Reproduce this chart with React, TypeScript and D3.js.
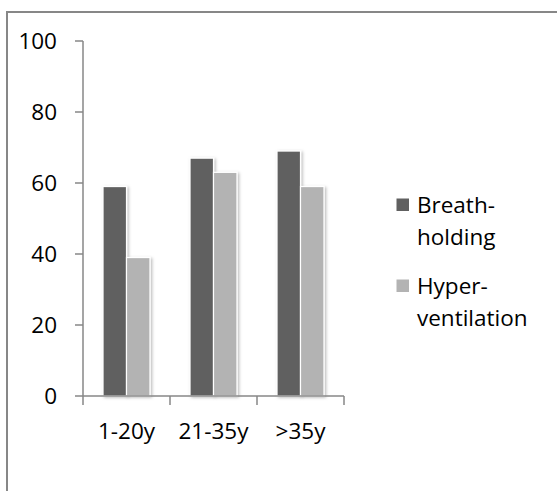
import React from "react";
import * as d3 from "d3";

// Age groups and the share (%) per group for each manoeuvre
const categories = ["1-20y", "21-35y", ">35y"];
const seriesNames = ["Breath-holding", "Hyper-ventilation"];
const breathHolding = [59, 67, 69];
const hyperventilation = [39, 63, 59];
const yTicks = [0, 20, 40, 60, 80, 100];
const legendLines = [["Breath-", "holding"], ["Hyper-", "ventilation"]];

const W = 557;
const H = 491;
const colors = ["#606060", "#b3b3b3"];
const axisColor = "#878787";
const font = "'Open Sans', Lato, sans-serif";
const fontSize = 22.5;

export default function App() {
  const x = d3.scaleBand<string>().domain(categories).range([83, 344]).paddingInner(0).paddingOuter(0);
  const y = d3.scaleLinear().domain([0, 100]).range([396, 41]);
  const barW = x.bandwidth() * 0.27;
  const inner = d3
    .scaleBand<string>()
    .domain(seriesNames)
    .range([-barW, barW])
    .padding(0);
  const values = [breathHolding, hyperventilation];
  const [x0, x1] = x.range();
  const tickEdges = [...categories.map((c) => x(c) as number), x1];

  return (
    <div style={{ position: "absolute", left: 0, top: 0 }}>
      <svg width={W} height={H} style={{ display: "block", background: "#fff" }}>
        <defs>
          <filter id="barShadow" x="-30%" y="-10%" width="160%" height="120%">
            <feDropShadow dx="1.5" dy="1" stdDeviation="1.6" floodColor="#000" floodOpacity="0.28" />
          </filter>
        </defs>
        {/* chart frame */}
        <rect x={7} y={12} width={W + 20} height={H + 20} fill="none" stroke={axisColor} strokeWidth={2} />

        {/* bars */}
        {seriesNames.map((s, si) =>
          categories.map((c, ci) => {
            const cx = (x(c) as number) + x.bandwidth() / 2;
            const bx = cx + (inner(s) as number);
            const v = values[si][ci];
            return (
              <rect
                key={s + c}
                x={bx}
                y={y(v)}
                width={inner.bandwidth()}
                height={y(0) - y(v)}
                fill={colors[si]}
                stroke="#fff"
                strokeWidth={1.2}
                filter="url(#barShadow)"
              />
            );
          })
        )}

        {/* y axis */}
        <line x1={x0} x2={x0} y1={y(100)} y2={y(0)} stroke={axisColor} strokeWidth={1.5} />
        {yTicks.map((t) => (
          <g key={t}>
            <line x1={x0 - 8} x2={x0} y1={y(t)} y2={y(t)} stroke={axisColor} strokeWidth={1.5} />
            <text x={57} y={y(t) + 8} textAnchor="end" fontFamily={font} fontSize={fontSize} fill="#000">
              {t}
            </text>
          </g>
        ))}

        {/* x axis */}
        <line x1={x0} x2={x1} y1={y(0)} y2={y(0)} stroke={axisColor} strokeWidth={1.5} />
        {tickEdges.map((tx, i) => (
          <line key={i} x1={tx} x2={tx} y1={y(0)} y2={y(0) + 9} stroke={axisColor} strokeWidth={1.5} />
        ))}
        {categories.map((c) => (
          <text
            key={c}
            x={(x(c) as number) + x.bandwidth() / 2}
            y={439}
            textAnchor="middle"
            fontFamily={font}
            fontSize={fontSize}
            fill="#000"
          >
            {c}
          </text>
        ))}

        {/* legend */}
        {seriesNames.map((s, i) => {
          const top = 198.5 + i * 81;
          return (
            <g key={s}>
              <rect x={396.5} y={top} width={12.5} height={12.5} fill={colors[i]} />
              {legendLines[i].map((line, li) => (
                <text key={li} x={417} y={top + 14.5 + li * 31.7} fontFamily={font} fontSize={fontSize} fill="#000">
                  {line}
                </text>
              ))}
            </g>
          );
        })}
      </svg>
    </div>
  );
}
